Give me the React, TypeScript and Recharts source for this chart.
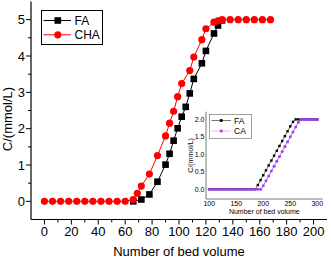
import React from 'react';
import { ComposedChart, Line, XAxis, YAxis, Legend, CartesianGrid } from 'recharts';

const FONT = '"Liberation Sans", Arial, sans-serif';

// Main chart data
const faX = [66, 72, 78, 84, 90, 93, 96, 99, 102, 105, 108, 111, 117, 120, 126, 129, 132];
const faY = [0, 0.05, 0.19, 0.54, 1.01, 1.31, 1.67, 2.01, 2.33, 2.6, 2.97, 3.37, 3.8, 4.14, 4.62, 4.84, 4.98];
const chaX = [0, 6, 12, 18, 24, 30, 36, 42, 48, 54, 60, 66, 69, 72, 78, 84, 90, 93, 96, 99, 102, 108, 111, 117, 120, 126, 129, 132, 138, 144, 150, 156, 162, 168];
const chaY = [0, 0, 0, 0, 0, 0, 0, 0, 0, 0, 0, 0.05, 0.22, 0.42, 0.75, 1.26, 1.8, 2.15, 2.48, 2.88, 3.24, 3.6, 3.97, 4.45, 4.75, 4.93, 4.97, 5.0, 5.0, 5.0, 5.0, 5.0, 5.0, 5.0];
const xTicks = [0, 10, 20, 30, 40, 50, 60, 70, 80, 90, 100, 110, 120, 130, 140, 150, 160, 170, 180, 190, 200];
const yTicks = [0, 0.5, 1, 1.5, 2, 2.5, 3, 3.5, 4, 4.5, 5];

// Inset data
const insetX = [100, 105, 110, 115, 120, 125, 130, 135, 140, 145, 150, 155, 160, 165, 170, 175, 180, 185, 190, 195, 200, 205, 210, 215, 220, 225, 230, 235, 240, 245, 250, 255, 260, 265, 270, 275, 280, 285, 290, 295, 300];
const insetFA = [0, 0, 0, 0, 0, 0, 0, 0, 0, 0, 0, 0, 0, 0, 0, 0, 0, 0, 0.12, 0.26, 0.4, 0.54, 0.68, 0.82, 0.96, 1.1, 1.24, 1.38, 1.52, 1.66, 1.8, 1.93, 2.0, 2.0, 2.0, 2.0, 2.0, 2.0, 2.0, 2.0, 2.0];
const insetCA = [0, 0, 0, 0, 0, 0, 0, 0, 0, 0, 0, 0, 0, 0, 0, 0, 0, 0, 0, 0, 0.1, 0.24, 0.38, 0.52, 0.66, 0.8, 0.94, 1.08, 1.22, 1.36, 1.5, 1.64, 1.78, 1.92, 2.0, 2.0, 2.0, 2.0, 2.0, 2.0, 2.0];
const insetXTicks = [100, 150, 200, 250, 300];
const insetYTicks = [0, 0.5, 1, 1.5, 2];

const faData = faX.map((x, i) => ({ x, y: faY[i] }));
const chaData = chaX.map((x, i) => ({ x, y: chaY[i] }));
const insetFAData = insetX.map((x, i) => ({ x, y: insetFA[i] }));
const insetCAData = insetX.map((x, i) => ({ x, y: insetCA[i] }));

const PURPLE = '#a040f0';
const RED = '#ff0000';

const XTick = (props: any) => {
  const { x, y, payload } = props;
  const v = payload.value;
  const major = v % 20 === 0;
  return (
    <g>
      <line x1={x} x2={x} y1={y} y2={y + (major ? 5 : 3)} stroke="#000" strokeWidth={1} />
      {major && (
        <text x={x} y={y + 16.8} textAnchor="middle" fontSize={13} fontFamily={FONT} fill="#000">
          {v}
        </text>
      )}
    </g>
  );
};

const YTick = (props: any) => {
  const { x, y, payload } = props;
  const v = payload.value;
  const major = Number.isInteger(v);
  return (
    <g>
      <line x1={x - (major ? 5 : 3)} x2={x} y1={y} y2={y} stroke="#000" strokeWidth={1} />
      {major && (
        <text x={x - 6} y={y + 4.6} textAnchor="end" fontSize={13} fontFamily={FONT} fill="#000">
          {v}
        </text>
      )}
    </g>
  );
};

const InsetXTick = (props: any) => {
  const { x, y, payload } = props;
  return (
    <text x={x} y={y + 6.6} textAnchor="middle" fontSize={7} fontFamily={FONT} fill="#000">
      {payload.value}
    </text>
  );
};

const InsetYTick = (props: any) => {
  const { x, y, payload } = props;
  return (
    <text x={x - 1.5} y={y + 2.5} textAnchor="end" fontSize={7} fontFamily={FONT} fill="#000">
      {payload.value.toFixed(1)}
    </text>
  );
};

const squareDot = (props: any) => {
  const { cx, cy, index } = props;
  if (cx == null || cy == null) return <g key={index} />;
  return <rect key={index} x={cx - 3.3} y={cy - 3.3} width={6.6} height={6.6} fill="#000" />;
};

const smallSquareDot = (props: any) => {
  const { cx, cy, index } = props;
  if (cx == null || cy == null) return <g key={index} />;
  return <rect key={index} x={cx - 1.2} y={cy - 1.2} width={2.4} height={2.4} fill="#000" />;
};

const MainLegend = () => (
  <svg width={62} height={35} style={{ display: 'block' }}>
    <rect x={0.5} y={0.5} width={61} height={34} fill="#fff" stroke="#000" strokeWidth={1} />
    <line x1={2.5} x2={30} y1={10.5} y2={10.5} stroke="#000" strokeWidth={1} />
    <rect x={16.8 - 3.3} y={10.5 - 3.3} width={6.6} height={6.6} fill="#000" />
    <text x={33.5} y={14.8} fontSize={12} fontFamily={FONT} fill="#000">FA</text>
    <line x1={2.5} x2={30} y1={24.8} y2={24.8} stroke={RED} strokeWidth={1} />
    <circle cx={16.8} cy={24.8} r={3.6} fill={RED} />
    <text x={33.5} y={29.1} fontSize={12} fontFamily={FONT} fill="#000">CHA</text>
  </svg>
);

const InsetLegend = () => (
  <svg width={43} height={25} style={{ display: 'block' }}>
    <rect x={0.5} y={0.5} width={42} height={24} fill="#fff" stroke="#888" strokeWidth={0.8} />
    <line x1={2.5} x2={22} y1={6.5} y2={6.5} stroke="#555" strokeWidth={0.8} />
    <rect x={12.2 - 1.4} y={6.5 - 1.4} width={2.8} height={2.8} fill="#000" />
    <text x={25} y={9.5} fontSize={8.5} fontFamily={FONT} fill="#000">FA</text>
    <line x1={2.5} x2={22} y1={17} y2={17} stroke="#d0a8f8" strokeWidth={0.8} />
    <circle cx={12.2} cy={17} r={1.6} fill={PURPLE} />
    <text x={25} y={20} fontSize={8.5} fontFamily={FONT} fill="#000">CA</text>
  </svg>
);

export default function App() {
  return (
    <div style={{ position: 'absolute', left: 0, top: 0, width: 331, height: 258, background: '#fff' }}>
      <ComposedChart width={331} height={258} margin={{ top: 1.5, right: 4, left: 0, bottom: 0 }}>
        <XAxis
          xAxisId="b"
          dataKey="x"
          type="number"
          domain={[-10, 210]}
          ticks={xTicks}
          interval={0}
          tickSize={0}
          tickMargin={0}
          tickLine={false}
          tick={XTick}
          height={38.5}
          allowDataOverflow
          axisLine={{ stroke: '#000', strokeWidth: 1.2 }}
          label={{
            content: (p: any) => {
              const vb = p.viewBox || {};
              return (
                <text x={vb.x + vb.width / 2} y={vb.y + vb.height - 2} textAnchor="middle" fontSize={13} fontFamily={FONT} fill="#000">
                  Number of bed volume
                </text>
              );
            },
          }}
        />
        <XAxis xAxisId="t" orientation="top" dataKey="x" type="number" domain={[-10, 210]} tick={false} tickLine={false} height={0} axisLine={{ stroke: '#000', strokeWidth: 1.2 }} allowDataOverflow />
        <YAxis
          yAxisId="l"
          type="number"
          domain={[-0.5, 5.5]}
          ticks={yTicks}
          interval={0}
          tickSize={0}
          tickMargin={0}
          tickLine={false}
          tick={YTick}
          width={31}
          allowDataOverflow
          axisLine={{ stroke: '#000', strokeWidth: 1.2 }}
          label={{
            content: (p: any) => {
              const vb = p.viewBox || {};
              const cy = vb.y + vb.height / 2 + 8.5;
              return (
                <text transform={`translate(12.3, ${cy}) rotate(-90)`} textAnchor="middle" fontSize={13} fontFamily={FONT} fill="#000">
                  C/(mmol/L)
                </text>
              );
            },
          }}
        />
        <YAxis yAxisId="r" orientation="right" type="number" domain={[-0.5, 5.5]} tick={false} tickLine={false} width={0} axisLine={{ stroke: '#000', strokeWidth: 1.2 }} allowDataOverflow />
        <Line xAxisId="b" yAxisId="l" data={faData} dataKey="y" type="linear" stroke="#000" strokeWidth={1} dot={squareDot} activeDot={false} isAnimationActive={false} />
        <Line xAxisId="b" yAxisId="l" data={chaData} dataKey="y" type="linear" stroke={RED} strokeWidth={1} dot={{ r: 3.6, fill: RED, stroke: RED, strokeWidth: 0 }} activeDot={false} isAnimationActive={false} />
        <Legend
          layout="horizontal"
          verticalAlign="middle"
          align="center"
          wrapperStyle={{ position: 'absolute', left: 40.5, top: 9.5, width: 62, height: 35, margin: 0, padding: 0 }}
          content={() => <MainLegend />}
        />
      </ComposedChart>

      <div style={{ position: 'absolute', left: 178, top: 108, width: 150, height: 108 }}>
        <ComposedChart width={150} height={108} margin={{ top: 3.7, right: 5.3, left: 0, bottom: 0 }}>
          <CartesianGrid xAxisId="b" yAxisId="l" fill="#fff" horizontal={false} vertical={false} />
          <XAxis
            xAxisId="b"
            dataKey="x"
            type="number"
            domain={[94, 310]}
            ticks={insetXTicks}
            interval={0}
            tickSize={0}
            tickMargin={0}
            tickLine={false}
            tick={InsetXTick}
            height={17}
            allowDataOverflow
            axisLine={{ stroke: '#555', strokeWidth: 0.8 }}
            label={{
              content: (p: any) => {
                const vb = p.viewBox || {};
                return (
                  <text x={vb.x + vb.width / 2} y={vb.y + 15.4} textAnchor="middle" fontSize={7} fontFamily={FONT} fill="#000">
                    Number of bed volume
                  </text>
                );
              },
            }}
          />
          <XAxis xAxisId="t" orientation="top" dataKey="x" type="number" domain={[94, 310]} tick={false} tickLine={false} height={0} axisLine={{ stroke: '#555', strokeWidth: 0.8 }} allowDataOverflow />
          <YAxis
            yAxisId="l"
            type="number"
            domain={[-0.28, 2.22]}
            ticks={insetYTicks}
            interval={0}
            tickSize={0}
            tickMargin={0}
            tickLine={false}
            tick={InsetYTick}
            width={28}
            allowDataOverflow
            axisLine={{ stroke: '#555', strokeWidth: 0.8 }}
            label={{
              content: (p: any) => {
                const vb = p.viewBox || {};
                const cy = vb.y + vb.height / 2;
                return (
                  <text transform={`translate(14.5, ${cy}) rotate(-90)`} textAnchor="middle" fontSize={7} fontFamily={FONT} fill="#000">
                    C/(mmol/L)
                  </text>
                );
              },
            }}
          />
          <YAxis yAxisId="r" orientation="right" type="number" domain={[-0.28, 2.22]} tick={false} tickLine={false} width={0} axisLine={{ stroke: '#555', strokeWidth: 0.8 }} allowDataOverflow />
          <Line xAxisId="b" yAxisId="l" data={insetFAData} dataKey="y" type="linear" stroke="#000" strokeWidth={0.6} dot={smallSquareDot} activeDot={false} isAnimationActive={false} />
          <Line xAxisId="b" yAxisId="l" data={insetCAData} dataKey="y" type="linear" stroke={PURPLE} strokeWidth={0.8} dot={{ r: 1.5, fill: PURPLE, stroke: PURPLE, strokeWidth: 0 }} activeDot={false} isAnimationActive={false} />
          <Legend
            layout="horizontal"
            verticalAlign="middle"
            align="center"
            wrapperStyle={{ position: 'absolute', left: 31, top: 5.5, width: 43, height: 25, margin: 0, padding: 0 }}
            content={() => <InsetLegend />}
          />
        </ComposedChart>
      </div>
    </div>
  );
}
